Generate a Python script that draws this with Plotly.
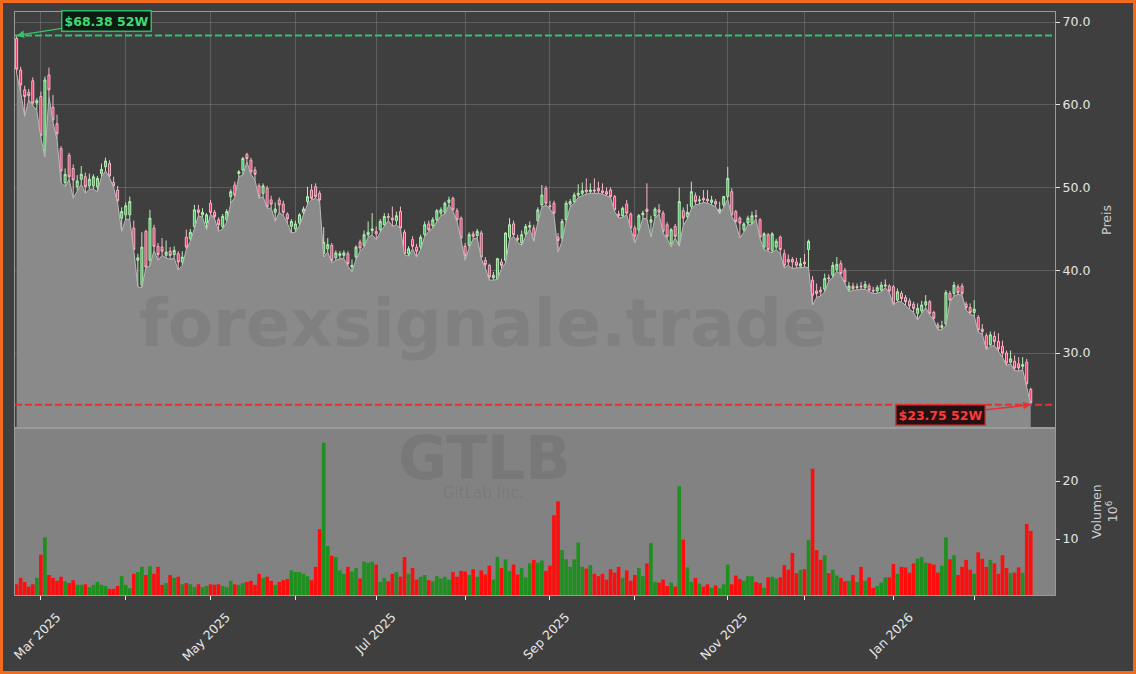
import pandas as pd
import plotly.graph_objects as go
from plotly.subplots import make_subplots

# ---------------- data (GTLB, daily, 52 weeks) ----------------
holidays = ['2025-04-18', '2025-05-26', '2025-06-19', '2025-07-04', '2025-09-01',
            '2025-11-27', '2025-12-25', '2026-01-01', '2026-01-19', '2026-02-16']
dates = [d for d in pd.bdate_range('2025-02-21', '2026-02-23') if d.strftime('%Y-%m-%d') not in holidays]

open_ = [68.0, 64.2, 61.8, 61.5, 62.9, 60.2, 61.0, 54.5, 63.6, 59.7,
         57.7, 54.7, 50.6, 53.9, 52.3, 50.1, 51.0, 51.3, 50.2, 50.2,
         50.1, 51.7, 52.5, 52.9, 50.6, 49.7, 46.3, 46.7, 46.7, 45.1,
         41.2, 38.2, 44.7, 41.2, 45.1, 42.9, 42.8, 41.8, 42.3, 41.9,
         42.0, 41.0, 44.0, 43.8, 45.3, 47.3, 46.7, 45.7, 48.1, 47.0,
         46.1, 45.3, 46.1, 48.9, 50.3, 51.7, 52.1, 54.0, 53.3, 52.1,
         50.2, 49.3, 49.9, 48.5, 47.0, 48.5, 48.0, 46.8, 45.3, 45.0,
         45.7, 47.0, 48.3, 49.7, 50.1, 49.3, 42.0, 42.6, 43.0, 41.5,
         41.8, 41.8, 42.0, 40.4, 41.6, 43.4, 43.0, 44.3, 44.8, 44.7,
         44.9, 45.5, 46.5, 46.3, 46.0, 47.1, 44.6, 42.0, 43.7, 42.8,
         42.8, 44.3, 45.6, 45.4, 46.1, 46.9, 47.0, 48.2, 48.7, 47.2,
         46.3, 42.9, 43.0, 44.4, 44.2, 44.5, 41.2, 40.6, 39.1, 39.0,
         41.0, 41.2, 44.0, 45.6, 43.9, 43.3, 44.4, 45.2, 45.1, 46.0,
         47.9, 49.9, 47.8, 48.1, 44.0, 43.9, 46.1, 48.0, 48.3, 49.1,
         49.3, 49.7, 49.5, 49.7, 49.9, 49.6, 49.5, 49.7, 48.9, 46.8,
         46.6, 48.0, 46.8, 45.1, 44.9, 46.7, 47.4, 45.8, 46.6, 47.3,
         46.9, 45.5, 43.2, 45.3, 43.1, 47.2, 46.5, 47.7, 49.0, 48.4,
         48.7, 48.6, 48.2, 48.3, 47.1, 47.9, 48.9, 49.5, 47.1, 46.3,
         44.9, 45.7, 45.7, 46.6, 46.1, 42.8, 44.3, 42.4, 42.8, 44.0,
         42.0, 41.3, 41.3, 41.0, 40.5, 41.0, 42.5, 38.8, 37.5, 37.6,
         37.7, 39.1, 39.4, 40.1, 40.8, 40.0, 37.6, 38.1, 37.9, 38.1,
         37.9, 38.1, 37.6, 37.5, 37.6, 38.1, 38.1, 38.0, 36.4, 37.2,
         36.7, 36.3, 35.9, 34.8, 35.1, 35.8, 36.2, 34.9, 33.4, 33.1,
         33.5, 37.2, 37.2, 38.0, 38.1, 35.9, 35.5, 34.9, 34.3, 32.9,
         32.1, 31.0, 32.0, 31.4, 30.8, 30.0, 28.9, 29.0, 28.7, 28.4,
         28.9, 25.6]

high = [68.38, 64.6, 62.3, 61.9, 63.3, 60.8, 61.6, 63.4, 64.5, 61.2,
        58.8, 55.0, 52.3, 54.2, 52.8, 51.5, 52.6, 51.8, 51.7, 51.6,
        51.4, 52.9, 53.6, 53.3, 51.3, 50.2, 47.6, 48.2, 48.9, 46.0,
        42.0, 44.6, 44.9, 47.3, 45.5, 43.3, 43.9, 43.6, 42.8, 42.9,
        42.3, 42.3, 44.9, 45.0, 47.9, 47.9, 47.5, 46.9, 48.5, 47.3,
        46.4, 46.8, 47.4, 49.8, 50.7, 52.1, 53.7, 54.2, 53.6, 52.5,
        50.5, 50.5, 50.2, 49.0, 48.2, 48.8, 48.4, 47.0, 46.2, 46.0,
        46.9, 47.7, 50.1, 50.4, 50.5, 49.6, 45.2, 43.9, 43.3, 42.4,
        42.3, 42.4, 42.3, 41.3, 43.0, 43.7, 44.8, 45.9, 46.9, 45.3,
        46.2, 46.9, 46.9, 47.7, 47.1, 47.7, 44.9, 42.9, 44.1, 43.2,
        44.3, 45.9, 46.0, 46.4, 47.4, 47.6, 48.3, 48.9, 48.9, 47.5,
        46.5, 43.3, 44.6, 44.7, 45.0, 44.8, 41.6, 40.8, 39.8, 41.5,
        41.4, 44.6, 46.3, 46.0, 44.3, 44.8, 45.6, 45.9, 45.5, 47.6,
        50.3, 50.2, 48.4, 48.4, 44.5, 46.2, 48.4, 48.6, 49.4, 50.4,
        50.6, 51.1, 50.5, 51.1, 50.7, 50.5, 50.0, 50.0, 49.1, 47.2,
        47.7, 48.5, 47.0, 45.4, 46.8, 47.2, 50.5, 46.6, 47.6, 48.0,
        47.2, 45.8, 45.1, 45.6, 50.0, 47.6, 48.0, 50.7, 49.4, 49.0,
        49.7, 49.7, 49.0, 48.6, 48.3, 49.0, 52.5, 49.9, 47.3, 46.5,
        45.8, 46.6, 47.1, 47.3, 46.3, 44.6, 44.5, 44.6, 43.8, 44.2,
        42.5, 41.9, 41.6, 41.5, 41.5, 42.0, 43.7, 39.3, 38.4, 38.0,
        39.6, 39.5, 41.0, 41.6, 41.2, 40.3, 38.6, 38.5, 38.4, 38.6,
        38.7, 38.4, 38.0, 38.2, 38.6, 38.9, 38.3, 38.2, 37.8, 37.5,
        37.0, 36.6, 36.2, 36.0, 36.3, 37.0, 36.4, 35.1, 33.7, 33.9,
        37.6, 37.5, 38.6, 38.3, 38.4, 36.2, 36.0, 36.4, 34.6, 33.5,
        32.4, 32.6, 32.6, 32.4, 31.5, 30.3, 30.3, 29.7, 29.5, 29.5,
        29.3, 25.8]

low = [63.8, 61.5, 58.6, 60.6, 59.9, 59.3, 56.0, 53.7, 61.0, 57.9,
       55.8, 50.6, 50.1, 51.0, 48.7, 49.6, 50.4, 49.3, 49.8, 49.8,
       49.5, 51.3, 52.0, 51.2, 50.0, 48.1, 44.7, 46.2, 46.1, 42.4,
       38.0, 37.9, 40.3, 40.5, 42.4, 41.2, 41.8, 41.5, 41.3, 41.5,
       40.0, 40.6, 42.5, 43.5, 45.0, 46.6, 46.4, 44.9, 46.8, 46.2,
       44.7, 45.0, 45.8, 48.1, 48.8, 51.3, 51.5, 53.1, 51.6, 50.9,
       48.7, 48.9, 47.5, 47.5, 45.9, 47.0, 46.6, 45.7, 44.5, 44.6,
       45.4, 46.7, 48.0, 48.5, 48.7, 48.3, 41.6, 42.2, 40.9, 41.2,
       41.4, 41.4, 40.5, 39.8, 41.3, 42.3, 42.8, 44.0, 44.3, 43.7,
       44.6, 45.3, 46.0, 45.3, 45.5, 45.0, 41.9, 41.7, 42.6, 41.6,
       42.5, 44.1, 44.7, 45.1, 45.8, 46.6, 46.8, 47.9, 47.1, 45.9,
       43.7, 41.2, 42.7, 43.8, 43.9, 41.4, 40.3, 38.8, 38.8, 38.9,
       40.2, 40.9, 43.7, 44.1, 43.4, 43.0, 44.1, 45.0, 43.5, 45.8,
       47.6, 47.9, 47.4, 46.7, 42.2, 43.5, 45.8, 47.7, 48.1, 48.8,
       49.0, 49.2, 49.3, 49.3, 49.3, 49.2, 49.0, 48.8, 47.1, 46.3,
       46.4, 46.7, 45.0, 43.3, 44.6, 46.3, 46.2, 44.0, 46.3, 46.8,
       44.5, 43.8, 42.8, 43.9, 42.9, 45.4, 46.2, 47.4, 47.9, 48.0,
       48.2, 48.1, 47.9, 47.7, 46.8, 47.6, 48.6, 46.5, 45.6, 43.9,
       44.6, 45.5, 45.5, 46.2, 43.8, 42.5, 42.3, 42.1, 42.5, 42.0,
       40.3, 40.6, 40.2, 40.3, 40.3, 40.4, 40.3, 35.8, 36.7, 36.9,
       37.4, 38.7, 39.1, 39.9, 39.4, 38.3, 37.4, 37.6, 37.6, 37.7,
       37.7, 37.4, 37.2, 37.2, 37.4, 37.9, 37.3, 35.8, 36.2, 36.2,
       35.7, 35.3, 34.9, 34.0, 34.8, 35.5, 34.6, 34.0, 32.8, 32.8,
       33.3, 36.2, 36.9, 37.1, 37.0, 35.2, 34.7, 34.5, 32.5, 32.3,
       30.4, 30.8, 30.9, 30.2, 29.5, 28.5, 28.7, 27.9, 27.8, 28.0,
       26.0, 23.75]

close = [64.3, 62.4, 61.0, 61.1, 60.2, 60.5, 56.3, 63.0, 61.8, 58.2,
         56.5, 52.0, 51.6, 51.3, 50.9, 50.8, 51.6, 50.1, 51.0, 51.3,
         51.1, 52.2, 53.2, 51.4, 50.2, 48.4, 47.1, 47.8, 48.3, 42.5,
         41.5, 42.8, 40.4, 46.3, 42.9, 41.9, 42.3, 42.2, 41.8, 42.4,
         41.0, 41.6, 42.8, 44.6, 47.3, 47.0, 47.0, 46.7, 47.0, 46.5,
         45.5, 46.5, 47.1, 49.5, 49.1, 51.9, 53.5, 53.5, 51.9, 51.6,
         48.9, 50.2, 47.7, 48.0, 47.4, 47.9, 47.0, 46.2, 45.9, 45.6,
         46.7, 47.4, 48.9, 48.7, 48.9, 48.5, 43.4, 43.1, 41.2, 42.1,
         42.0, 42.1, 40.8, 40.6, 42.8, 42.7, 44.3, 44.6, 45.0, 44.4,
         45.9, 46.5, 46.4, 46.1, 46.6, 45.1, 42.0, 42.6, 42.9, 42.3,
         44.0, 45.5, 44.9, 46.1, 47.2, 47.3, 48.1, 48.5, 47.3, 46.1,
         43.9, 41.8, 44.3, 44.1, 44.7, 41.6, 40.7, 39.2, 39.4, 41.4,
         40.6, 44.5, 45.5, 44.3, 43.7, 44.3, 45.3, 45.4, 43.7, 47.3,
         49.1, 48.1, 47.7, 46.9, 43.6, 45.9, 48.1, 48.3, 49.1, 49.3,
         49.6, 49.5, 49.7, 49.6, 49.6, 49.4, 49.2, 48.9, 47.3, 46.6,
         47.5, 46.9, 45.1, 44.1, 46.6, 46.9, 47.1, 46.1, 47.4, 47.0,
         44.7, 44.1, 44.9, 44.1, 48.3, 46.3, 47.0, 49.5, 48.3, 48.5,
         48.5, 48.4, 48.5, 48.0, 47.4, 48.9, 51.1, 46.7, 45.9, 45.7,
         45.6, 46.3, 46.6, 46.5, 44.0, 44.4, 42.5, 44.4, 43.5, 42.5,
         40.6, 41.0, 41.0, 40.6, 40.8, 40.8, 43.5, 37.0, 37.2, 37.4,
         39.0, 39.0, 40.6, 40.7, 39.6, 38.6, 38.1, 37.8, 38.0, 38.0,
         38.3, 37.6, 37.5, 37.9, 38.2, 38.2, 37.5, 36.0, 37.4, 36.6,
         36.2, 35.7, 35.4, 35.4, 35.8, 36.2, 34.8, 34.2, 33.0, 33.3,
         37.3, 36.4, 38.2, 37.3, 37.2, 35.5, 34.9, 35.3, 32.8, 32.6,
         30.6, 32.2, 31.4, 30.5, 30.0, 28.8, 29.3, 28.2, 28.2, 28.6,
         26.3, 24.0]

volume_m = [2.2, 3.3, 2.6, 1.8, 2.2, 3.3, 7.3, 10.3, 3.8, 3.3,
            2.8, 3.5, 2.7, 2.4, 2.9, 2.1, 2.1, 2.2, 1.7, 2.1,
            2.6, 2.1, 1.9, 1.4, 1.4, 1.9, 3.6, 2.1, 1.5, 4.0,
            4.3, 5.2, 3.8, 5.3, 4.0, 5.2, 2.1, 2.4, 3.8, 3.3,
            3.5, 2.2, 2.4, 2.2, 1.7, 2.2, 1.7, 1.9, 2.2, 2.1,
            2.2, 1.9, 1.7, 2.8, 2.2, 2.1, 2.4, 2.6, 2.8, 2.1,
            4.0, 3.3, 3.5, 2.8, 2.1, 2.6, 2.9, 3.1, 4.6, 4.3,
            4.3, 4.0, 3.6, 2.9, 5.2, 11.7, 26.6, 8.8, 7.1, 6.9,
            4.6, 4.0, 5.2, 4.4, 5.0, 3.2, 6.1, 5.9, 6.1, 5.6,
            2.6, 3.3, 2.7, 4.0, 4.3, 3.5, 6.9, 4.0, 5.0, 3.0,
            3.5, 3.8, 2.9, 2.7, 3.6, 3.2, 3.5, 3.0, 4.3, 3.5,
            4.5, 4.4, 3.8, 4.8, 3.5, 4.6, 3.9, 5.4, 3.0, 6.9,
            5.0, 6.5, 4.5, 5.6, 3.9, 5.0, 3.4, 5.8, 6.4, 5.9,
            6.3, 4.5, 5.4, 14.1, 16.5, 8.1, 6.5, 5.2, 6.5, 9.4,
            5.2, 4.9, 5.5, 4.0, 3.6, 4.0, 3.0, 4.8, 4.2, 5.2,
            3.3, 4.6, 2.8, 3.8, 5.0, 3.6, 5.8, 9.3, 2.6, 2.5,
            3.0, 1.9, 2.5, 1.8, 19.1, 9.9, 5.1, 2.6, 3.3, 2.3,
            1.8, 2.2, 1.6, 2.0, 1.5, 2.2, 5.6, 2.2, 3.7, 3.1,
            2.8, 3.6, 3.6, 2.6, 2.4, 1.6, 3.4, 3.5, 3.2, 3.4,
            5.5, 4.7, 7.6, 4.1, 4.7, 4.8, 9.8, 22.1, 8.1, 6.4,
            7.2, 4.1, 4.7, 3.7, 3.3, 2.7, 2.8, 3.8, 2.6, 5.2,
            2.8, 3.4, 1.6, 1.9, 2.5, 3.4, 3.4, 5.7, 4.0, 5.2,
            5.1, 4.2, 5.8, 6.6, 6.9, 5.9, 5.8, 5.6, 4.2, 5.4,
            10.3, 6.5, 7.2, 3.8, 5.2, 6.4, 4.7, 4.0, 7.7, 6.6,
            5.2, 6.4, 5.8, 4.0, 7.2, 5.0, 4.1, 4.2, 5.1, 4.2,
            12.6, 11.4]

high_52w = 68.38
low_52w = 23.75
ticker = "GTLB"
company = "GitLab Inc."

# ---------------- derived helpers ----------------
n = len(close)
dates = dates[:n]
idx = list(range(n))

tick_vals, tick_text = [], []
prev_month = dates[0].month  # first (partial) month gets no tick
for i, d in enumerate(dates):
    if d.month != prev_month:
        tick_vals.append(i)
        tick_text.append(d.strftime('%b %Y') if d.month % 2 == 1 else '')
        prev_month = d.month

vol_colors = ['#1f8f1f' if c >= o else '#ff0d0d' for o, c in zip(open_, close)]
i_high = high.index(max(high))
i_low = low.index(min(low))

# ---------------- figure ----------------
W, H = 1136, 674
ML, MR, MT, MB = 15, 81, 12, 79
split = (595 - 428) / (595 - 12)

fig = make_subplots(rows=2, cols=1, shared_xaxes=True, vertical_spacing=0,
                    row_heights=[1 - split, split])

fig.add_trace(go.Scatter(x=idx, y=low, mode='lines', fill='tozeroy',
                         line=dict(color='#b9b9b9', width=1),
                         fillcolor='#8a8a8a', hoverinfo='skip', showlegend=False),
              row=1, col=1)

fig.add_trace(go.Candlestick(x=idx, open=open_, high=high, low=low, close=close,
                             increasing=dict(line=dict(color='#b6efb6', width=1), fillcolor='#3cb85a'),
                             decreasing=dict(line=dict(color='#f5b8c8', width=1), fillcolor='#e0305e'),
                             whiskerwidth=0, showlegend=False),
              row=1, col=1)

fig.add_trace(go.Bar(x=idx, y=volume_m, marker=dict(color=vol_colors, line=dict(width=0)),
                     showlegend=False), row=2, col=1)

grid_c = 'rgba(255,255,255,0.16)'
font_c = '#e6e6e6'
axis_font = dict(family='DejaVu Sans', size=12.5, color=font_c)
title_font = dict(family='DejaVu Sans', size=12.5, color='#d0d0d0')

fig.update_layout(
    width=W, height=H,
    margin=dict(l=ML, r=MR, t=MT, b=MB, autoexpand=False),
    paper_bgcolor='#3f3f3f',
    plot_bgcolor='#3f3f3f',
    bargap=0.1,
    showlegend=False,
    font=axis_font,
)

xr = [-0.4, 257]
fig.update_xaxes(range=xr, tickvals=tick_vals, ticktext=tick_text, automargin=False,
                 showline=True, linecolor='#9a9a9a', linewidth=1, mirror=True,
                 zeroline=False, rangeslider=dict(visible=False))
fig.update_xaxes(showgrid=True, gridcolor=grid_c, gridwidth=1, ticks='', row=1, col=1)
fig.update_xaxes(showgrid=False, ticks='outside', ticklen=4, tickcolor='#e6e6e6',
                 tickangle=-45, tickfont=axis_font, ticklabeloverflow='allow',
                 ticklabelshift=16, ticklabelstandoff=5, row=2, col=1)

fig.update_yaxes(side='right', range=[20.94, 71.21], tickvals=[30, 40, 50, 60, 70],
                 ticktext=['30.0', '40.0', '50.0', '60.0', '70.0'], automargin=False,
                 ticks='outside', ticklen=4, tickcolor='#e6e6e6', tickfont=axis_font,
                 showgrid=True, gridcolor=grid_c, zeroline=False,
                 showline=True, linecolor='#9a9a9a', linewidth=1, mirror=True,
                 title=dict(text='Preis', font=title_font, standoff=12),
                 row=1, col=1)

fig.update_yaxes(side='right', range=[0.35, 29.14], tickvals=[10, 20], ticktext=['10', '20'],
                 automargin=False,
                 ticks='outside', ticklen=4, tickcolor='#e6e6e6', tickfont=axis_font,
                 showgrid=False, zeroline=False,
                 showline=True, linecolor='#9a9a9a', linewidth=1, mirror=True,
                 title=dict(text='Volumen<br>10<sup>6</sup>', font=title_font, standoff=14),
                 row=2, col=1)

# volume panel background
fig.add_shape(type='rect', xref='x2 domain', yref='y2 domain', x0=0, x1=1, y0=0, y1=1,
              fillcolor='#828282', line=dict(width=0), layer='below')

# 52W lines
fig.add_shape(type='line', xref='x domain', yref='y', x0=0, x1=1, y0=high_52w, y1=high_52w,
              line=dict(color='#33c46a', width=2, dash='7px,3px'))
fig.add_shape(type='line', xref='x domain', yref='y', x0=0, x1=1, y0=low_52w, y1=low_52w,
              line=dict(color='#e82f2f', width=2, dash='7px,3px'))

# 52W annotations
fig.add_annotation(x=i_high, y=high_52w, xref='x', yref='y',
                   text=f'<b>${high_52w:.2f} 52W</b>', showarrow=True,
                   ax=90, ay=-14, arrowhead=2, arrowsize=1, arrowwidth=1.5, arrowcolor='#34c46a',
                   font=dict(family='DejaVu Sans', size=12.5, color='#3ddc78'),
                   bgcolor='#0e1a12', bordercolor='#2fb865', borderwidth=1.5, borderpad=2)
fig.add_annotation(x=i_low, y=low_52w, xref='x', yref='y',
                   text=f'<b>${low_52w:.2f} 52W</b>', showarrow=True,
                   ax=-90, ay=10, arrowhead=2, arrowsize=1, arrowwidth=1.5, arrowcolor='#e83030',
                   font=dict(family='DejaVu Sans', size=12.5, color='#ff3a3a'),
                   bgcolor='#241010', bordercolor='#e03030', borderwidth=1.5, borderpad=2)

# watermarks
def px_to_paper(xp, yp):
    pw, ph = W - ML - MR, H - MT - MB
    return (xp - ML) / pw, 1 - (yp - MT) / ph

wx, wy = px_to_paper(483, 323)
fig.add_annotation(x=wx, y=wy, xref='paper', yref='paper', text='<b>forexsignale.trade</b>',
                   xanchor='center', yanchor='middle', showarrow=False,
                   font=dict(family='DejaVu Sans', size=66, color='rgba(0,0,0,0.07)'))
gx, gy = px_to_paper(484, 458)
fig.add_annotation(x=gx, y=gy, xref='paper', yref='paper', text=f'<b>{ticker}</b>',
                   xanchor='center', yanchor='middle', showarrow=False,
                   font=dict(family='DejaVu Sans', size=60, color='rgba(0,0,0,0.07)'))
cx, cy = px_to_paper(483, 493)
fig.add_annotation(x=cx, y=cy, xref='paper', yref='paper', text=company,
                   xanchor='center', yanchor='middle', showarrow=False,
                   font=dict(family='DejaVu Sans', size=15, color='rgba(0,0,0,0.08)'))

# orange outer frame
x0p, y1p = px_to_paper(1.5, 1.5)
x1p, y0p = px_to_paper(W - 1.5, H - 1.5)
fig.add_shape(type='rect', xref='paper', yref='paper', x0=x0p, x1=x1p, y0=y0p, y1=y1p,
              line=dict(color='#f26a1b', width=3), fillcolor='rgba(0,0,0,0)', layer='above')

fig.write_html('out.html', config={'displayModeBar': False},
               post_script="document.body.style.margin='0';document.body.style.overflow='hidden';")
